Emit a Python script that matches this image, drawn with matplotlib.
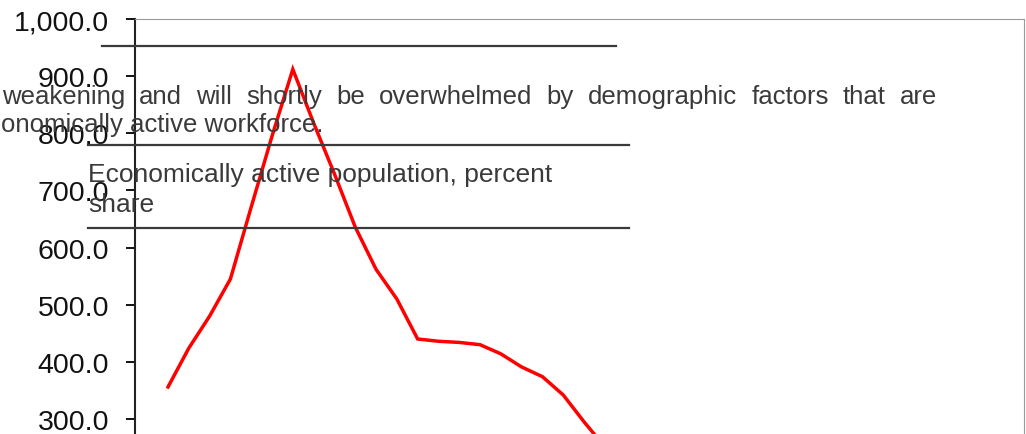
import matplotlib
matplotlib.use('Agg')
import matplotlib.pyplot as plt
from matplotlib.lines import Line2D
from matplotlib.ticker import FuncFormatter, MultipleLocator
import numpy as np

points = np.arange(22)
values = [356, 424, 480, 545, 671, 795, 912, 818, 729, 636, 562,
          510, 440, 436, 434, 430, 414, 391, 374, 342, 295, 251]

paraLine1 = 'weakening and will shortly be overwhelmed by demographic factors that are'
paraLine2 = 'onomically active workforce.'
headingLines = ['Economically active population, percent', 'share']

W, H = 1026, 435
plt.rcParams['font.family'] = ['Liberation Sans', 'DejaVu Sans']
fig = plt.figure(figsize=(W / 100, H / 100), dpi=100)


def fx(px):
    return px / W


def fy(py):
    return (H - py) / H


# chart area: value 1000 at y=20px, 57.14px per 100, bottom cut off by the page
ax = fig.add_axes([fx(135), fy(20 + 571.4), fx(1024) - fx(135), 571.4 / H])
ax.plot(points, values, color='#ff0000', lw=2.5, solid_joinstyle='miter')
ax.set_ylim(0, 1000)
ax.set_xlim(-1.587, 41.15)
ax.yaxis.set_major_locator(MultipleLocator(100))
ax.yaxis.set_major_formatter(FuncFormatter(lambda v, p: '{:,.1f}'.format(v)))
ax.tick_params(axis='y', length=6.5, width=1.4, pad=12, labelsize=20.5,
               colors='#111111')
ax.set_xticks([])
ax.spines['left'].set_color('#222222')
ax.spines['left'].set_linewidth(1.5)
ax.spines['top'].set_color('#9a9a9a')
ax.spines['top'].set_linestyle((0, (1, 1)))
ax.spines['right'].set_color('#9a9a9a')
ax.spines['right'].set_linestyle((0, (2, 1)))
ax.spines['bottom'].set_visible(False)

# page overlay: rules and text over the image
textColor = '#3a3a3a'
for x0, x1, y in [(102, 616, 47), (88, 629, 146), (88, 629, 229)]:
    fig.add_artist(Line2D([fx(x0), fx(x1)], [fy(y), fy(y)], color='#3a3a3a', lw=1.6))


def justify(words, x0, x1, y, size):
    r = fig.canvas.get_renderer()
    texts = [fig.text(0, fy(y), w, fontsize=size, color=textColor, va='baseline')
             for w in words]
    widths = [t.get_window_extent(r).width for t in texts]
    gap = (x1 - x0 - sum(widths)) / (len(words) - 1)
    x = x0
    for t, w in zip(texts, widths):
        t.set_x(fx(x))
        x += w + gap


justify(paraLine1.split(), 2, 937, 104, 18.5)
fig.text(fx(1), fy(132), paraLine2, fontsize=18.5, color=textColor, va='baseline')
fig.text(fx(88), fy(181.7), headingLines[0], fontsize=19, color=textColor, va='baseline')
fig.text(fx(88), fy(211.7), headingLines[1], fontsize=19, color=textColor, va='baseline')

fig.savefig('out.png', dpi=100)
